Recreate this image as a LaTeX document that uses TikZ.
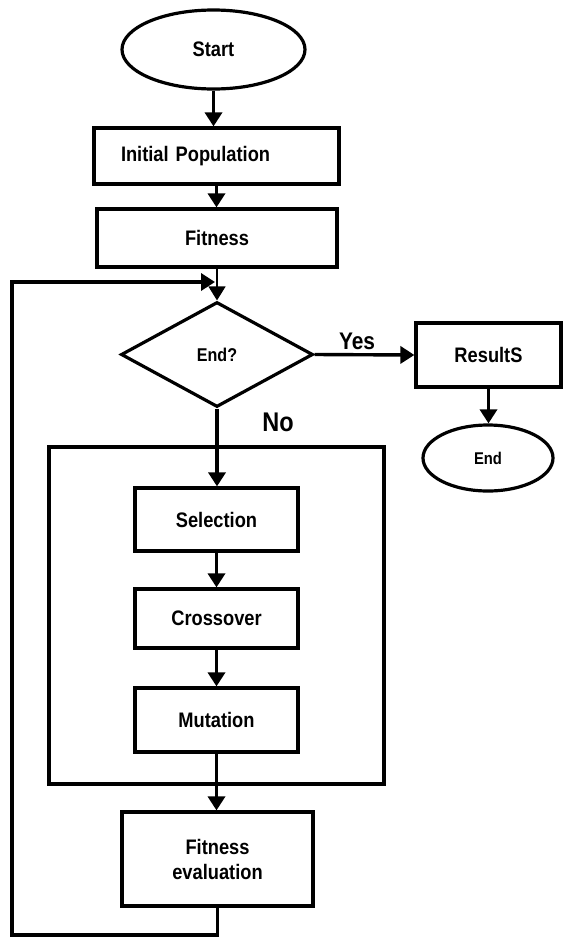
\documentclass[tikz,border=0pt]{standalone}
\usepackage{fontspec}
\setmainfont{Liberation Sans}[FakeStretch=0.87]
\usetikzlibrary{shapes.geometric,arrows.meta}
\begin{document}
\begin{tikzpicture}[x=1pt,y=-1pt,
  every node/.style={font=\bfseries\fontsize{21}{25}\selectfont, text=black},
  box/.style={draw, line width=3.2pt, rectangle, inner sep=0pt, align=center},
  oval/.style={draw, line width=3.2pt, ellipse, inner sep=0pt},
  decision/.style={draw, line width=3.2pt, diamond, inner sep=0pt},
  link/.style={line width=3.4pt, -{Triangle[length=14pt,width=17pt]}},
  thinlink/.style={line width=1.6pt, -{Triangle[length=14pt,width=17pt]}},
  lbl/.style={inner sep=0pt},
]
\useasboundingbox (0,0) rectangle (563,937);

% main column
\node[oval, minimum width=183pt, minimum height=79pt] (start) at (213.5,49.5) {Start};
\node[box, minimum width=245pt, minimum height=56pt, inner xsep=27pt,
      text width=191pt, align=left] (init) at (216.5,156) {Initial Population};
\node[box, minimum width=240pt, minimum height=58pt] (fit) at (217,238) {Fitness};
\node[decision, minimum width=192pt, minimum height=105pt,
      font=\bfseries\fontsize{18.5}{22}\selectfont] (dec) at (217,354.5) {End?};

% exit branch
\node[box, minimum width=145pt, minimum height=64pt] (res) at (488.5,355) {ResultS};
\node[oval, minimum width=130pt, minimum height=66pt,
      font=\bfseries\fontsize{17}{20}\selectfont] (fin) at (488,458) {End};

% genetic operators
\node[box, minimum width=335pt, minimum height=337pt] (ops) at (216.5,615.5) {};
\node[box, minimum width=163pt, minimum height=63pt] (sel) at (216.5,519.5) {Selection};
\node[box, minimum width=163pt, minimum height=59pt] (cross) at (216.5,618.5) {Crossover};
\node[box, minimum width=163pt, minimum height=64pt] (mut) at (216.5,720) {Mutation};
\node[box, minimum width=191pt, minimum height=94pt] (evalbox) at (217.5,859) {Fitness\\evaluation};

% branch labels
\node[lbl, font=\bfseries\fontsize{24}{28}\selectfont] (yes) at (357,341) {Yes};
\node[lbl, font=\bfseries\fontsize{27}{31}\selectfont] (no) at (278,422) {No};

% loop-back route
\coordinate (bl) at (12,935);
\coordinate (tl) at (12,282);
\coordinate (merge) at (215,282);

% connectors
\draw[link] (start.south) -- (start.south |- init.north);
\draw[link] (init.south) -- (init.south |- fit.north);
\draw[thinlink] (fit.south) -- (dec.north);
\draw[link] (dec.east) -- (res.west);
\draw[link] (res.south) -- (res.south |- fin.north);
\draw[link] (dec.south) -- (dec.south |- sel.north);
\draw[link] (sel.south) -- (cross.north);
\draw[link] (cross.south) -- (mut.north);
\draw[link] (mut.south) -- (mut.south |- evalbox.north);
\draw[link] (evalbox.south) |- (bl) -- (tl) -- (merge);
\end{tikzpicture}
\end{document}
